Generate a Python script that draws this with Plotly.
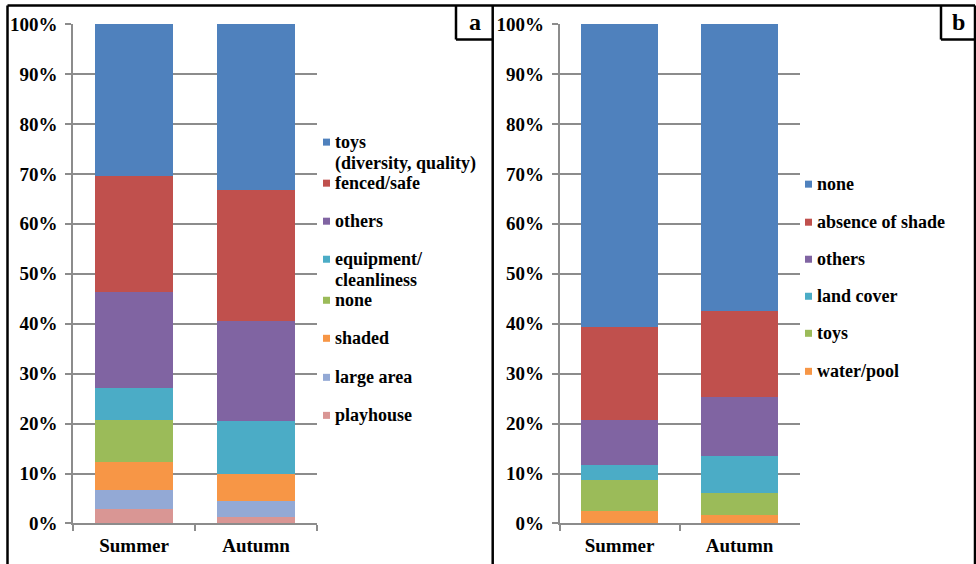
import plotly.graph_objects as go

# ---------------- data ----------------
seasons = ["Summer", "Autumn"]

# panel a (stack order bottom -> top)
a_names = ["playhouse", "large area", "shaded", "none", "equipment/\ncleanliness",
           "others", "fenced/safe", "toys\n(diversity, quality)"]
a_summer = [2.9, 3.9, 5.5, 8.4, 6.5, 19.1, 23.3, 30.4]
a_autumn = [1.3, 3.1, 5.6, 0.0, 10.5, 20.0, 26.3, 33.2]
a_colors = ["#D99694", "#93A9D5", "#F79646", "#9BBB59", "#4BACC6",
            "#8064A2", "#C0504D", "#4F81BD"]

# panel b (stack order bottom -> top)
b_names = ["water/pool", "toys", "land cover", "others", "absence of shade", "none"]
b_summer = [2.5, 6.2, 3.1, 9.0, 18.5, 60.7]
b_autumn = [1.7, 4.5, 7.4, 11.8, 17.1, 57.5]
b_colors = ["#F79646", "#9BBB59", "#4BACC6", "#8064A2", "#C0504D", "#4F81BD"]

y_ticks = [0, 10, 20, 30, 40, 50, 60, 70, 80, 90, 100]

# ---------------- layout helpers ----------------
W, H = 976, 564
# the page is drawn into a vertical band TOP..TOP+HR of the picture
TOP, HR = 10.0, 542.5
def px(x):
    return x / W
def py(y):
    return 1 - (y - TOP) / HR

SERIF = "Liberation Serif"
GRID = "#8C8C8C"

fig = go.Figure()

for name, s, a, c in zip(a_names, a_summer, a_autumn, a_colors):
    fig.add_trace(go.Bar(x=seasons, y=[s, a], name=name.replace("\n", " "),
                         marker=dict(color=c, line=dict(width=0)),
                         xaxis="x", yaxis="y", showlegend=False))
for name, s, a, c in zip(b_names, b_summer, b_autumn, b_colors):
    fig.add_trace(go.Bar(x=seasons, y=[s, a], name=name,
                         marker=dict(color=c, line=dict(width=0)),
                         xaxis="x2", yaxis="y2", showlegend=False))

tickfont = dict(family=SERIF, size=19, color="black", weight="bold")

def xax(domain, anchor):
    return dict(domain=domain, anchor=anchor, type="category",
                showline=True, linecolor=GRID, linewidth=1.5,
                ticks="outside", tickson="boundaries", ticklen=6,
                tickcolor=GRID, tickwidth=1.5, showgrid=False,
                tickfont=tickfont, ticklabelstandoff=4)

def yax(domain, anchor):
    return dict(domain=domain, anchor=anchor, range=[0, 100],
                tickvals=y_ticks, ticktext=[f"{v}%" for v in y_ticks],
                showline=True, linecolor=GRID, linewidth=1.5,
                ticks="outside", ticklen=6, tickcolor=GRID, tickwidth=1.5,
                showgrid=True, gridcolor=GRID, gridwidth=1.5,
                zeroline=False, tickfont=tickfont, ticklabelstandoff=4)

ydom = [py(523), py(24)]
fig.update_layout(
    width=W, height=H,
    margin=dict(l=0, r=0, t=0, b=0),
    paper_bgcolor="white", plot_bgcolor="white",
    barmode="stack", bargap=0.36,
    xaxis=xax([px(73), px(317)], "y"),
    yaxis=yax(ydom, "x"),
    xaxis2=xax([px(559.5), px(799.5)], "y2"),
    yaxis2=yax(ydom, "x2"),
)

shapes = []
annotations = []
legfont = dict(family=SERIF, size=18, color="black", weight="bold")

# legend a
a_first_y = [415, 377, 338, 300, 259, 221, 183, 142]
LINE = 21
for name, c, y0 in zip(a_names, a_colors, a_first_y):
    shapes.append(dict(type="rect", xref="paper", yref="paper",
                       x0=px(323), x1=px(330), y0=py(y0 + 3.5), y1=py(y0 - 3.5),
                       fillcolor=c, line=dict(width=0)))
    for i, line in enumerate(name.split("\n")):
        annotations.append(dict(xref="paper", yref="paper", x=px(333), y=py(y0 + i * LINE),
                                xanchor="left", yanchor="middle", showarrow=False,
                                text=line, font=legfont))

# legend b
b_first_y = [371, 333, 296, 259, 222, 184]
for name, c, y0 in zip(b_names, b_colors, b_first_y):
    shapes.append(dict(type="rect", xref="paper", yref="paper",
                       x0=px(805), x1=px(812), y0=py(y0 + 3.5), y1=py(y0 - 3.5),
                       fillcolor=c, line=dict(width=0)))
    annotations.append(dict(xref="paper", yref="paper", x=px(815), y=py(y0),
                            xanchor="left", yanchor="middle", showarrow=False,
                            text=name, font=legfont))

# frames
frame = dict(color="black", width=2.5)
FT = 5.5
for (x0, y0, x1, y1) in [(7.5, FT, 975, FT), (7.5, FT, 7.5, 570), (492.7, FT, 492.7, 570),
                         (975, FT, 975, 570),
                         (456, FT, 456, 39.5), (456, 39.5, 492.7, 39.5),
                         (941, FT, 941, 39.5), (941, 39.5, 975, 39.5)]:
    shapes.append(dict(type="line", xref="paper", yref="paper",
                       x0=px(x0), y0=py(y0), x1=px(x1), y1=py(y1), line=frame))

for lab, cx in [("a", 474.5), ("b", 958)]:
    annotations.append(dict(xref="paper", yref="paper", x=px(cx), y=py(22),
                            xanchor="center", yanchor="middle", showarrow=False,
                            text=lab, font=dict(family=SERIF, size=24, color="black",
                                                weight="bold")))

fig.update_layout(shapes=shapes, annotations=annotations)
fig.write_html("out.html", config={"displayModeBar": False},
               post_script="document.body.style.margin='0';document.body.style.overflow='hidden';")
